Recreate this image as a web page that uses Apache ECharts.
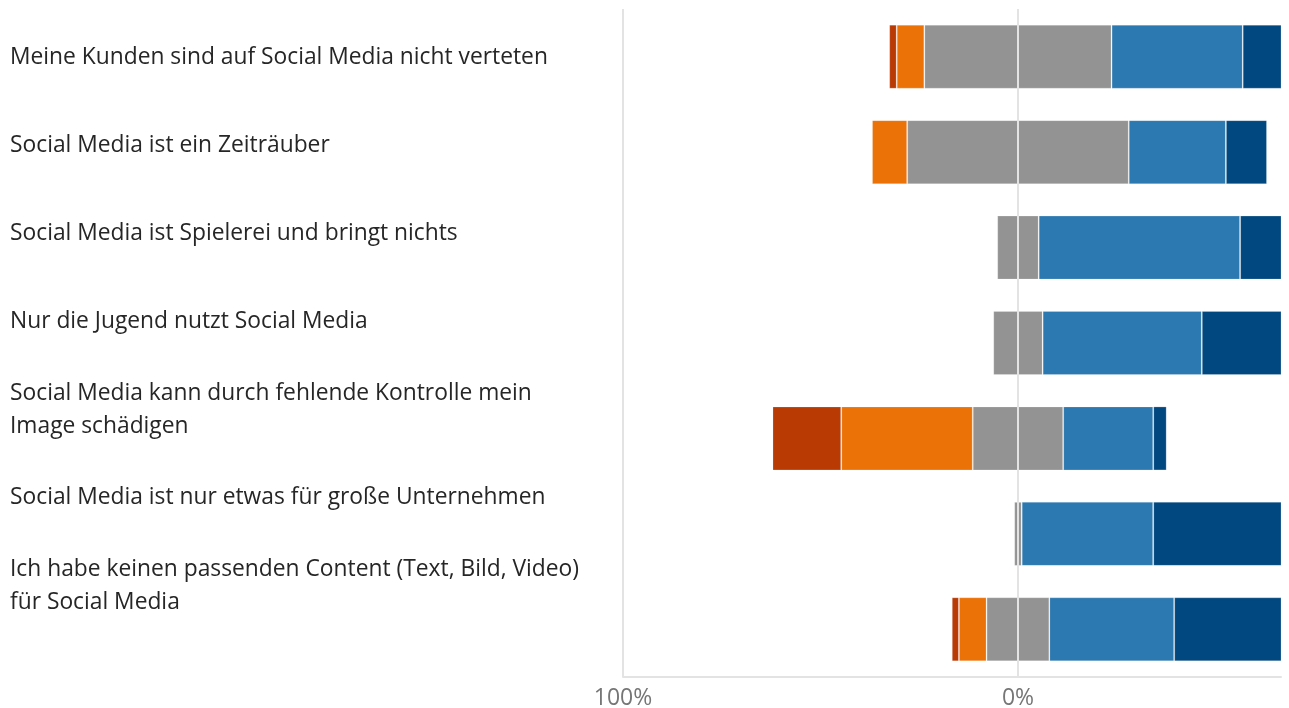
<!DOCTYPE html>
<html>
<head>
<meta charset="utf-8">
<script src="https://cdn.jsdelivr.net/npm/echarts@6/dist/echarts.min.js"></script>
<style>html,body{margin:0;padding:0;background:#fff}#c{width:1289px;height:708px}</style>
</head>
<body>
<div id="c"></div>
<script>
const categories = [
  "Meine Kunden sind auf Social Media nicht verteten",
  "Social Media ist ein Zeiträuber",
  "Social Media ist Spielerei und bringt nichts",
  "Nur die Jugend nutzt Social Media",
  "Social Media kann durch fehlende Kontrolle mein\nImage schädigen",
  "Social Media ist nur etwas für große Unternehmen",
  "Ich habe keinen passenden Content (Text, Bild, Video)\nfür Social Media"
];
const stronglyDisagree = [1.9, 0, 0, 0, 17.4, 0, 1.8];
const disagree        = [7.0, 8.9, 0, 0, 33.3, 0, 7.0];
const neutral         = [47.4, 56.1, 10.5, 12.5, 22.9, 1.9, 15.9];
const agree           = [33.2, 24.6, 51.0, 40.3, 22.8, 33.3, 31.6];
const stronglyAgree   = [10.5, 10.4, 38.5, 47.2, 3.4, 64.8, 43.7];
const tickLabels = { "-100": "100%", "0": "0%" };

const colors = {
  sd: "#B93A03", d: "#EB7207", n: "#939393", a: "#2B79B0", sa: "#00487F"
};
const border = { borderColor: "rgba(255,255,255,0.2)", borderWidth: 1 };
function barSeries(name, data, color) {
  return {
    name: name, type: "bar", stack: "all", xAxisIndex: 0, yAxisIndex: 0,
    barWidth: 64, data: data, itemStyle: Object.assign({ color: color }, border),
    emphasis: { disabled: true }, z: 2
  };
}
const chart = echarts.init(document.getElementById("c"), null, { renderer: "canvas" });
chart.setOption({
  animation: false,
  backgroundColor: "#ffffff",
  grid: [
    { left: 623, right: 8, top: 9, bottom: 31, outerBoundsMode: "none", containLabel: false },
    { left: 10, top: 14, height: 616, width: 590, outerBoundsMode: "none", containLabel: false }
  ],
  xAxis: [
    {
      type: "value", gridIndex: 0, min: -100, max: 66.6, interval: 100, z: 5,
      axisLine: { show: true, lineStyle: { color: "#E3E3E3", width: 2 } },
      axisTick: { show: false },
      splitLine: { show: true, showMaxLine: false, lineStyle: { color: "#E3E3E3", width: 2 } },
      axisLabel: {
        showMaxLabel: false, margin: 10, color: "#767676", fontSize: 23,
        fontFamily: "Open Sans",
        formatter: function (v) { return tickLabels[String(Math.round(v))] || ""; }
      }
    },
    { type: "value", gridIndex: 1, min: 0, max: 1, show: false }
  ],
  yAxis: [
    {
      type: "category", gridIndex: 0, data: categories, inverse: true,
      axisLine: { show: false }, axisTick: { show: false }, axisLabel: { show: false },
      splitLine: { show: false }
    },
    {
      type: "category", gridIndex: 1, data: categories, inverse: true,
      axisLine: { show: false }, axisTick: { show: false }, splitLine: { show: false },
      axisLabel: {
        align: "left", margin: 0, color: "#262626", fontSize: 22.8,
        fontFamily: "Open Sans", lineHeight: 33
      }
    }
  ],
  series: [
    barSeries("Neutral links", neutral.map(v => -v / 2), colors.n),
    barSeries("Neutral rechts", neutral.map(v => v / 2), colors.n),
    barSeries("Trifft eher nicht zu", disagree.map(v => -v), colors.d),
    barSeries("Trifft eher zu", agree, colors.a),
    barSeries("Trifft nicht zu", stronglyDisagree.map(v => -v), colors.sd),
    barSeries("Trifft zu", stronglyAgree, colors.sa),
    { type: "bar", xAxisIndex: 1, yAxisIndex: 1, data: [] }
  ]
});
</script>
</body>
</html>
